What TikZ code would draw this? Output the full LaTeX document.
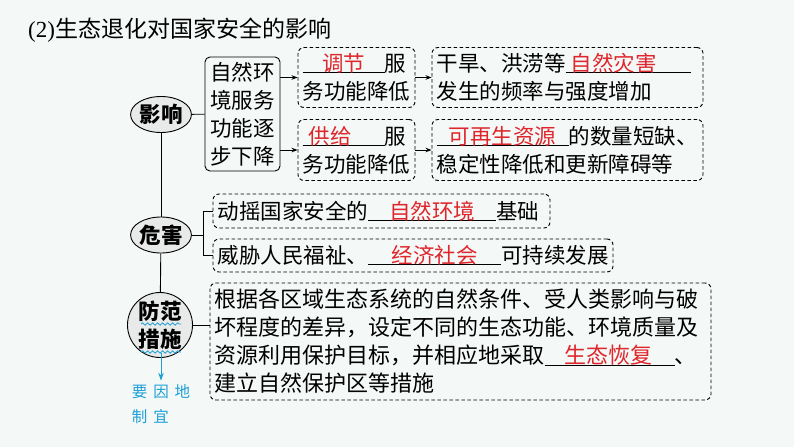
\documentclass[tikz,border=0pt]{standalone}
\usepackage{fontspec}
\setmainfont{Noto Sans CJK SC}
\newfontfamily\latinserif{Liberation Serif}
\usetikzlibrary{shapes.geometric,arrows.meta,decorations.pathmorphing}
\definecolor{fillred}{RGB}{222,38,44}
\definecolor{notecyan}{RGB}{28,160,214}
\definecolor{paper}{RGB}{244,248,246}
\definecolor{bubble}{RGB}{232,233,233}
\newcommand\body{\fontsize{21.5}{28}\selectfont}
\newcommand\fillin[3][c]{\makebox[0pt][l]{\rule[-1.5pt]{#2}{0.8pt}}\makebox[#2][#1]{\color{fillred}#3}}

\begin{document}
\begin{tikzpicture}
    [
        x=1pt, y=-1pt,
        topic/.style={ellipse, draw, line width=0.9pt, fill=bubble, minimum width=58pt, minimum height=36pt, inner sep=0pt, font=\body\bfseries},
        topicround/.style={circle, draw, line width=0.9pt, fill=bubble, minimum size=65pt, inner sep=0pt, align=center, font=\body\bfseries},
        solidbox/.style={rectangle, draw, line width=0.9pt, rounded corners=5pt, inner sep=0pt, align=center, font=\body},
        dashbox/.style={rectangle, draw, dash pattern=on 3.5pt off 2.5pt, line width=0.9pt, rounded corners=6pt, inner xsep=4.5pt, inner ysep=0pt, align=left, font=\body},
        link/.style={line width=0.9pt},
        feed/.style={line width=0.9pt, -{Stealth[length=6pt,width=4.5pt]}},
        wave/.style={notecyan, line width=0.8pt, decorate, decoration={snake, amplitude=1.2pt, segment length=5pt}},
        notefeed/.style={notecyan, line width=0.9pt, -{Stealth[length=8pt,width=5.5pt]}, shorten >=3pt},
    ]
    \useasboundingbox (0,0) rectangle (794,447);
    \fill[paper] (0,0) rectangle (794,447);

    \node (title) at (28,30) [anchor=west, inner sep=0pt, font=\fontsize{23}{28}\selectfont] {{\latinserif (2)}生态退化对国家安全的影响};

    \node (impact) at (161,114.5) [topic] {影响};
    \node (decline) at (242.5,114) [solidbox, minimum width=75pt, minimum height=114pt] {自然环\\境服务\\功能逐\\步下降};
    \node (regulate) at (356.5,77.5) [dashbox, text width=108pt, minimum height=60pt] {\fillin{82pt}{调节}服\\务功能降低};
    \node (supply) at (356.5,150) [dashbox, text width=108pt, minimum height=61pt] {\fillin[l]{82pt}{\hspace{6pt}供给}服\\务功能降低};
    \node (disaster) at (567.5,77.5) [dashbox, text width=262pt, minimum height=60pt] {干旱、洪涝等\fillin[l]{125pt}{\hspace{5pt}自然灾害}\\发生的频率与强度增加};
    \node (resource) at (567.5,150) [dashbox, text width=262pt, minimum height=61pt] {\fillin{132pt}{可再生资源}的数量短缺、\\稳定性降低和更新障碍等};

    \node (harm) at (161,235) [topic] {危害};
    \node (base) at (381.5,211) [dashbox, text width=328pt, minimum height=34pt] {动摇国家安全的\fillin{128pt}{自然环境}基础};
    \node (welfare) at (413,255.5) [dashbox, text width=391pt, minimum height=33pt] {威胁人民福祉、\fillin{133pt}{经济社会}可持续发展};

    \node (guard) at (160,325) [topicround] {防范\\措施};
    \node (measure) at (460.5,341.5) [dashbox, text width=492pt, minimum height=117pt, font=\fontsize{22}{28}\selectfont] {根据各区域生态系统的自然条件、受人类影响与破\\坏程度的差异，设定不同的生态功能、环境质量及\\资源利用保护目标，并相应地采取\fillin[l]{130pt}{\hspace{20pt}生态恢复}、\\建立自然保护区等措施};
    \node (note) at (161,404.5) [text=notecyan, align=left, inner sep=1pt, font=\fontsize{15.5}{25}\selectfont] {要\hspace{6pt}因\hspace{6pt}地\\制\hspace{6pt}宜};

    \draw[wave] (141,324) -- (181,324);
    \draw[wave] (141,352) -- (181,352);
    \coordinate (tail) at (161,353);
    \draw[notefeed] (tail) -- (note.north);

    \draw[link] (impact) -- (decline);
    \draw[feed] (decline.east |- regulate.west) -- (regulate.west);
    \draw[feed] (decline.east |- supply.west) -- (supply.west);
    \draw[feed] (regulate) -- (disaster);
    \draw[feed] (supply) -- (resource);
    \draw[link] (impact) -- (harm);
    \draw[link] (harm) -- (guard);
    \draw[link] (harm.east) -- ++(12,0) |- (base.west);
    \draw[link] (harm.east) -- ++(12,0) |- (welfare.west);
    \draw[link] (guard.east) -- (guard.east -| measure.west);
\end{tikzpicture}
\end{document}
